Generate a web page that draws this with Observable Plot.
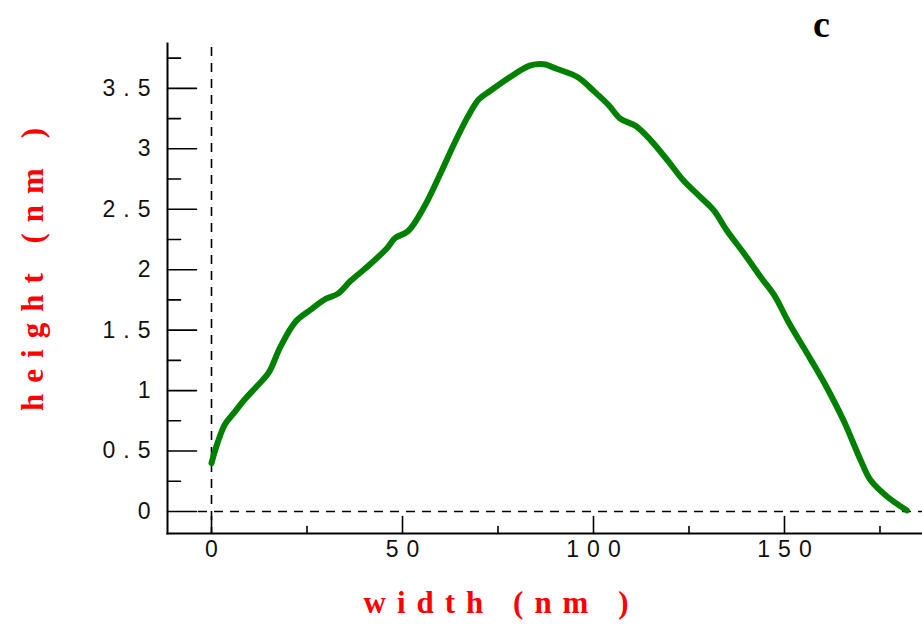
<!DOCTYPE html>
<html>
<head>
<meta charset="utf-8">
<script src="https://cdn.jsdelivr.net/npm/d3@7"></script>
<script src="https://cdn.jsdelivr.net/npm/@observablehq/plot@0.6"></script>
<style>
  html, body { margin: 0; padding: 0; background: #fff; }
</style>
</head>
<body>
<div id="chart"></div>
<script>
// Profile data
const widthNm  = [0, 1.5, 3.5, 6, 8.5, 12, 15, 18, 22, 26, 30, 33, 36.5, 41, 46, 48, 51.5, 55.5, 60, 63.5, 67, 70, 73, 77.5, 83.5, 87, 90.5, 96, 100, 104, 107, 111, 115, 119.5, 123.5, 128, 131.5, 135, 139.5, 144, 147.5, 151, 157, 161, 165.5, 170, 172.5, 177, 182];
const heightNm = [0.40, 0.56, 0.72, 0.82, 0.92, 1.04, 1.15, 1.36, 1.57, 1.67, 1.76, 1.80, 1.91, 2.03, 2.18, 2.26, 2.32, 2.51, 2.80, 3.04, 3.26, 3.41, 3.48, 3.58, 3.69, 3.70, 3.66, 3.59, 3.48, 3.36, 3.25, 3.19, 3.07, 2.90, 2.74, 2.60, 2.49, 2.32, 2.13, 1.93, 1.78, 1.57, 1.25, 1.03, 0.75, 0.42, 0.26, 0.12, 0.01];

const yMajor = [0, 0.5, 1, 1.5, 2, 2.5, 3, 3.5];
const yMajorLabels = ["0", "0.5", "1", "1.5", "2", "2.5", "3", "3.5"];
const yMinor = [0.25, 0.75, 1.25, 1.75, 2.25, 2.75, 3.25, 3.75];
const xMajor = [0, 50, 100, 150];
const xMajorLabels = ["0", "50", "100", "150"];
const xMinor = [25, 75, 125, 175];
const xTitle = "width (nm )";
const yTitle = "height (nm )";
const panelLabel = "c";

const profile = widthNm.map((w, i) => ({width: w, height: heightNm[i]}));
const tickShape = {draw(context, l) { context.moveTo(0, 0); context.lineTo(0, -l); }};
const tickFont = "'Liberation Sans', Arial, sans-serif";
const titleFont = "'Liberation Serif', 'Times New Roman', serif";

const chart = Plot.plot({
  width: 922,
  height: 624,
  marginLeft: 167,
  marginRight: 0,
  marginTop: 43,
  marginBottom: 91,
  x: {domain: [-11.52, 186.13], axis: null},
  y: {domain: [-0.182, 3.871], axis: null},
  style: {background: "white"},
  marks: [
    // reference dashed lines
    Plot.ruleX([0], {stroke: "black", strokeWidth: 1.6, strokeDasharray: "9,7", insetTop: 4}),
    Plot.ruleY([0], {stroke: "black", strokeWidth: 1.6, strokeDasharray: "9,7", insetLeft: 31}),
    // axis lines
    Plot.frame({anchor: "left", stroke: "black", strokeWidth: 2}),
    Plot.frame({anchor: "bottom", stroke: "black", strokeWidth: 2}),
    // inward ticks
    Plot.vector(yMajor, {y: d => d, frameAnchor: "left", rotate: 90, length: 29, anchor: "start", shape: tickShape, stroke: "black", strokeWidth: 1.6}),
    Plot.vector(yMinor, {y: d => d, frameAnchor: "left", rotate: 90, length: 13, anchor: "start", shape: tickShape, stroke: "black", strokeWidth: 1.6}),
    Plot.vector(xMajor, {x: d => d, frameAnchor: "bottom", rotate: 0, length: 17, anchor: "start", shape: tickShape, stroke: "black", strokeWidth: 1.6}),
    Plot.vector(xMinor, {x: d => d, frameAnchor: "bottom", rotate: 0, length: 7, anchor: "start", shape: tickShape, stroke: "black", strokeWidth: 1.6}),
    // tick labels
    Plot.text(yMajor, {y: d => d, text: (d, i) => yMajorLabels[i], frameAnchor: "left", textAnchor: "end", lineAnchor: "middle", dx: -9, fontSize: 23, fontFamily: tickFont, fill: "#111"}),
    Plot.text(xMajor, {x: d => d, text: (d, i) => xMajorLabels[i], frameAnchor: "bottom", textAnchor: "middle", lineAnchor: "middle", dx: 4, dy: 16.5, fontSize: 23, fontFamily: tickFont, fill: "#111"}),
    // profile line
    Plot.line(profile, {x: "width", y: "height", stroke: "#008000", strokeWidth: 6, curve: "catmull-rom", strokeLinecap: "round", strokeLinejoin: "round"}),
    // axis titles
    Plot.text([xTitle], {text: d => d, frameAnchor: "bottom", textAnchor: "middle", lineAnchor: "middle", dx: -43.5, dy: 70, fontSize: 31, fontWeight: "bold", fontFamily: titleFont, fill: "red"}),
    Plot.text([yTitle], {text: d => d, frameAnchor: "left", rotate: -90, textAnchor: "middle", lineAnchor: "middle", dx: -134, dy: -24.5, fontSize: 31, fontWeight: "bold", fontFamily: titleFont, fill: "red"}),
    // panel label
    Plot.text([panelLabel], {text: d => d, frameAnchor: "top-right", textAnchor: "middle", lineAnchor: "bottom", dx: -101, dy: -7, fontSize: 38, fontWeight: "bold", fontFamily: titleFont, fill: "black"})
  ]
});

// letter spacing, applied per text mark in render order
const spacing = ["8px", "8px", "11px", "11px", "0px"];
d3.select(chart).selectAll('g[aria-label="text"]').each(function(d, i) {
  this.setAttribute("letter-spacing", spacing[i] || "0px");
});
document.getElementById("chart").appendChild(chart);
</script>
</body>
</html>
